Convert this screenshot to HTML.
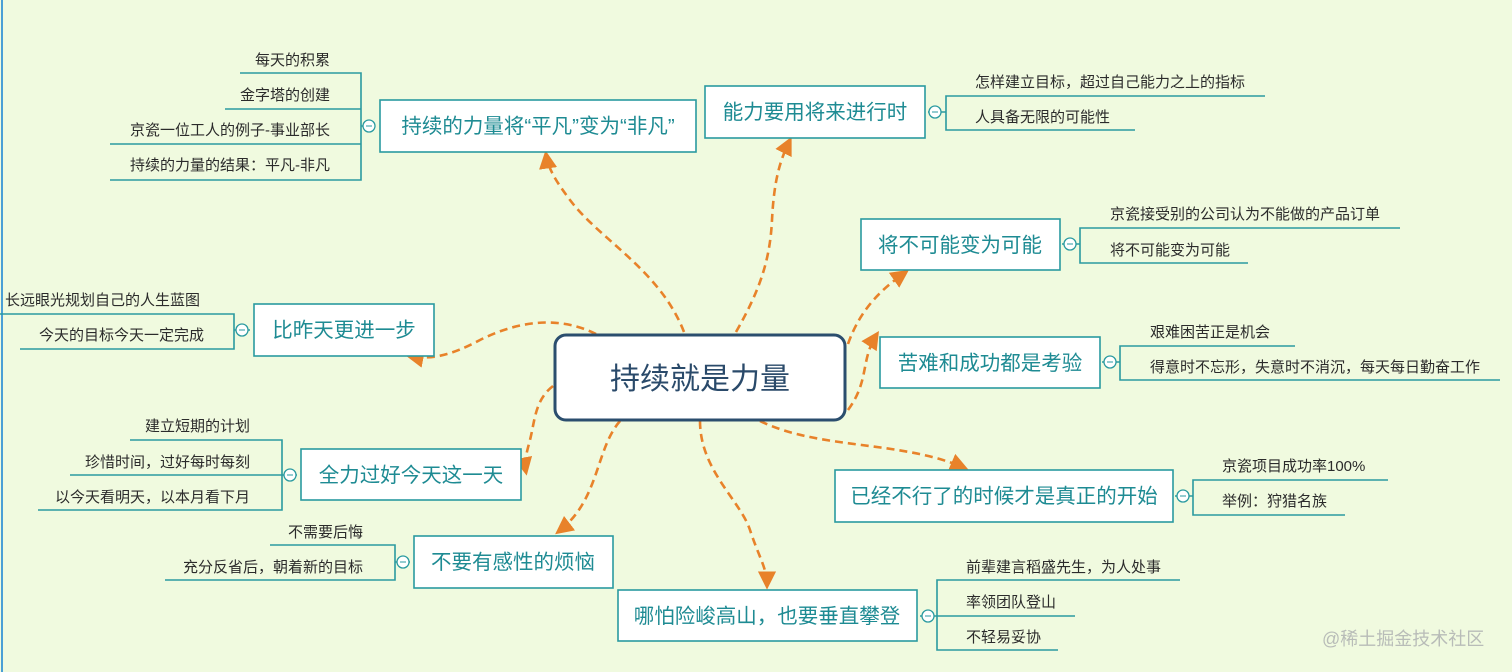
<!DOCTYPE html>
<html><head><meta charset="utf-8"><style>
html,body{margin:0;padding:0;background:#f0fadf;}
svg{display:block}
.s{font-family:"Liberation Sans","Noto Sans CJK SC",sans-serif;font-size:15px;fill:#2b2b2b}
.m{font-family:"Liberation Sans","Noto Sans CJK SC",sans-serif;font-size:20.5px;fill:#1e8b93}
.b{fill:#fff;stroke:#2a9aa0;stroke-width:1.6}
.l{stroke:#2a9aa0;stroke-width:1.6;fill:none}
.c{fill:#fff;stroke:#2a9aa0;stroke-width:1.3}
.a{stroke:#e8822a;stroke-width:2.6;fill:none;stroke-dasharray:8 5}
</style></head><body>
<svg width="1512" height="672" viewBox="0 0 1512 672" xmlns="http://www.w3.org/2000/svg">
<defs><marker id="ah" viewBox="0 0 10 10" refX="8" refY="5" markerWidth="7" markerHeight="7" markerUnits="strokeWidth" orient="auto"><path d="M0,0 L10,5 L0,10 z" fill="#e8822a"/></marker></defs>
<rect x="0" y="0" width="1512" height="672" fill="#f0fadf"/>
<line x1="2" y1="0" x2="2" y2="672" stroke="#4a9fd6" stroke-width="2"/>

<g class="a">
<path d="M684,332 C660,270 600,240 570,200 C555,180 548,168 546,154" marker-end="url(#ah)"/>
<path d="M736,332 C760,290 770,260 772,220 C774,180 780,160 790,140" marker-end="url(#ah)"/>
<path d="M848,344 C860,310 880,290 906,272" marker-end="url(#ah)"/>
<path d="M596,334 C560,316 520,320 480,340 C450,356 430,360 409,356" marker-end="url(#ah)"/>
<path d="M848,410 C870,380 860,360 877,334" marker-end="url(#ah)"/>
<path d="M553,386 C535,400 535,420 530,440 C526,455 524,462 526,472" marker-end="url(#ah)"/>
<path d="M760,421 C820,450 900,440 965,468" marker-end="url(#ah)"/>
<path d="M620,421 C595,450 600,500 558,532" marker-end="url(#ah)"/>
<path d="M700,421 C700,470 740,500 750,530 C760,560 767,568 767,586" marker-end="url(#ah)"/>
</g>

<rect x="555" y="335" width="290" height="85" rx="11" fill="#fff" stroke="#2b4e6e" stroke-width="3"/>
<text x="700" y="389" text-anchor="middle" font-family="Liberation Sans,Noto Sans CJK SC,sans-serif" font-size="30" fill="#2a4a6a">持续就是力量</text>

<rect class="b" x="380" y="100" width="316" height="52"/>
<text class="m" x="538" y="133" text-anchor="middle">持续的力量将“平凡”变为“非凡”</text>
<path class="l" d="M240,73 H361 V180 H110 M225,109 H361 M110,144 H361 M361,126 H374"/>
<text class="s" x="330" y="65" text-anchor="end">每天的积累</text>
<text class="s" x="330" y="100" text-anchor="end">金字塔的创建</text>
<text class="s" x="330" y="135" text-anchor="end">京瓷一位工人的例子-事业部长</text>
<text class="s" x="330" y="170" text-anchor="end">持续的力量的结果：平凡-非凡</text>

<rect class="b" x="705" y="86" width="220" height="52"/>
<text class="m" x="815" y="119" text-anchor="middle">能力要用将来进行时</text>
<path class="l" d="M1265,96 H946 V130 H1135 M928,112 H946"/>
<text class="s" x="975" y="87">怎样建立目标，超过自己能力之上的指标</text>
<text class="s" x="975" y="122">人具备无限的可能性</text>

<rect class="b" x="861" y="219" width="199" height="51"/>
<text class="m" x="960" y="252" text-anchor="middle">将不可能变为可能</text>
<path class="l" d="M1400,228 H1080 V263 H1248 M1062,244 H1080"/>
<text class="s" x="1110" y="219">京瓷接受别的公司认为不能做的产品订单</text>
<text class="s" x="1110" y="255">将不可能变为可能</text>

<rect class="b" x="254" y="304" width="180" height="52"/>
<text class="m" x="344" y="337" text-anchor="middle">比昨天更进一步</text>
<path class="l" d="M0,314 H234 V349 H20 M234,330 H250"/>
<text class="s" x="5" y="305">长远眼光规划自己的人生蓝图</text>
<text class="s" x="204" y="340" text-anchor="end">今天的目标今天一定完成</text>

<rect class="b" x="880" y="337" width="220" height="51"/>
<text class="m" x="990" y="370" text-anchor="middle">苦难和成功都是考验</text>
<path class="l" d="M1295,346 H1120 V380 H1500 M1102,362 H1120"/>
<text class="s" x="1150" y="337">艰难困苦正是机会</text>
<text class="s" x="1150" y="372">得意时不忘形，失意时不消沉，每天每日勤奋工作</text>

<rect class="b" x="301" y="449" width="220" height="51"/>
<text class="m" x="411" y="482" text-anchor="middle">全力过好今天这一天</text>
<path class="l" d="M130,440 H282 V510 H38 M70,475 H297"/>
<text class="s" x="250" y="431" text-anchor="end">建立短期的计划</text>
<text class="s" x="250" y="467" text-anchor="end">珍惜时间，过好每时每刻</text>
<text class="s" x="250" y="502" text-anchor="end">以今天看明天，以本月看下月</text>

<rect class="b" x="835" y="470" width="338" height="52"/>
<text class="m" x="1004" y="503" text-anchor="middle">已经不行了的时候才是真正的开始</text>
<path class="l" d="M1388,480 H1193 V515 H1345 M1175,496 H1193"/>
<text class="s" x="1222" y="471">京瓷项目成功率100%</text>
<text class="s" x="1222" y="506">举例：狩猎名族</text>

<rect class="b" x="414" y="536" width="199" height="52"/>
<text class="m" x="513" y="569" text-anchor="middle">不要有感性的烦恼</text>
<path class="l" d="M270,545 H395 V580 H165 M395,562 H410"/>
<text class="s" x="363" y="537" text-anchor="end">不需要后悔</text>
<text class="s" x="363" y="572" text-anchor="end">充分反省后，朝着新的目标</text>

<rect class="b" x="618" y="590" width="299" height="51"/>
<text class="m" x="767" y="623" text-anchor="middle">哪怕险峻高山，也要垂直攀登</text>
<path class="l" d="M1180,580 H937 V650 H1058 M920,616 H1075"/>
<text class="s" x="966" y="572">前辈建言稻盛先生，为人处事</text>
<text class="s" x="966" y="607">率领团队登山</text>
<text class="s" x="966" y="642">不轻易妥协</text>

<g>
<circle class="c" cx="369" cy="126" r="6"/><line x1="366" y1="126" x2="372" y2="126" stroke="#2a9aa0"/>
<circle class="c" cx="935" cy="112" r="6"/><line x1="932" y1="112" x2="938" y2="112" stroke="#2a9aa0"/>
<circle class="c" cx="1070" cy="244" r="6"/><line x1="1067" y1="244" x2="1073" y2="244" stroke="#2a9aa0"/>
<circle class="c" cx="242" cy="330" r="6"/><line x1="239" y1="330" x2="245" y2="330" stroke="#2a9aa0"/>
<circle class="c" cx="1110" cy="362" r="6"/><line x1="1107" y1="362" x2="1113" y2="362" stroke="#2a9aa0"/>
<circle class="c" cx="290" cy="475" r="6"/><line x1="287" y1="475" x2="293" y2="475" stroke="#2a9aa0"/>
<circle class="c" cx="1183" cy="496" r="6"/><line x1="1180" y1="496" x2="1186" y2="496" stroke="#2a9aa0"/>
<circle class="c" cx="403" cy="562" r="6"/><line x1="400" y1="562" x2="406" y2="562" stroke="#2a9aa0"/>
<circle class="c" cx="928" cy="616" r="6"/><line x1="925" y1="616" x2="931" y2="616" stroke="#2a9aa0"/>
</g>

<text x="1322" y="645" font-family="Liberation Sans,Noto Sans CJK SC,sans-serif" font-size="18" fill="#b8bcb8">@稀土掘金技术社区</text>
</svg>
</body></html>
